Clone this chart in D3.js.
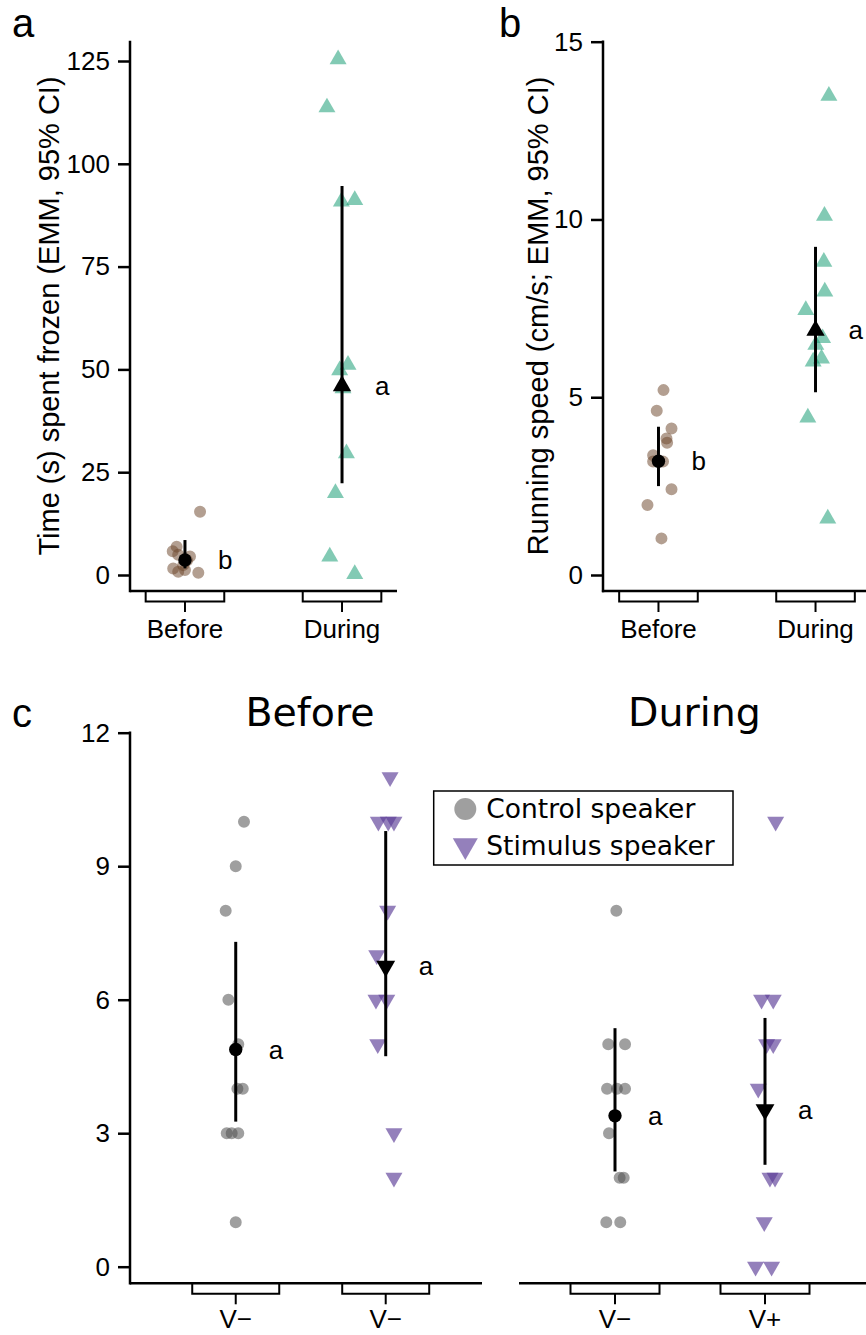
<!DOCTYPE html>
<html>
<head>
<meta charset="utf-8">
<script src="https://cdn.jsdelivr.net/npm/d3@7"></script>
<style>
  body { margin: 0; background: #fff; }
</style>
</head>
<body>
<svg id="fig" width="866" height="1335"></svg>
<script>
// ---------- Panel a: time spent frozen (s) ----------
const abCategories = ["Before", "During"];
const frozenBefore = [15.4, 0.56, 5.8, 6.9, 4.9, 4.5, 1.6, 0.8, 2.4, 3.5, 1.2];
const frozenBeforeJitter = [0.096, 0.085, -0.078, -0.053, -0.043, 0.032, -0.075, -0.043, -0.011, 0.013, 0];
const frozenDuring = [125.4, 113.7, 90.8, 91.2, 51.1, 49.8, 45.4, 29.6, 19.9, 4.5, 0.2];
const frozenDuringJitter = [-0.025, -0.096, -0.004, 0.081, 0.038, -0.015, 0.006, 0.028, -0.042, -0.078, 0.081];
const frozenEmm = [3.65, 46.0];
const frozenLower = [1.6, 22.3];
const frozenUpper = [8.5, 94.6];
const frozenLetters = ["b", "a"];
const frozenTicks = [0, 25, 50, 75, 100, 125];

// ---------- Panel b: running speed (cm/s) ----------
const speedBefore = [5.2, 4.62, 4.12, 3.84, 3.72, 3.37, 3.19, 3.19, 2.41, 1.97, 1.03];
const speedBeforeJitter = [0.032, -0.011, 0.083, 0.051, 0.055, -0.034, -0.034, 0.029, 0.083, -0.07, 0.019];
const speedDuring = [13.48, 10.1, 8.81, 7.97, 7.45, 6.66, 6.47, 6.09, 6.0, 4.43, 1.59];
const speedDuringJitter = [0.085, 0.057, 0.053, 0.059, -0.062, 0.045, 0.002, 0.038, -0.015, -0.049, 0.078];
const speedEmm = [3.2, 6.88];
const speedLower = [2.5, 5.14];
const speedUpper = [4.17, 9.23];
const speedLetters = ["b", "a"];
const speedTicks = [0, 5, 10, 15];

// ---------- Panel c: number of visits ----------
const periods = ["Before", "During"];
const beforeCategories = ["V\u2212", "V\u2212"];
const duringCategories = ["V\u2212", "V+"];
const visitsBeforeControl = [10, 9, 8, 6, 5, 4, 4, 3, 3, 3, 1];
const visitsBeforeControlJitter = [0.055, 0, -0.067, -0.049, 0.017, 0.011, 0.047, -0.06, -0.027, 0.017, 0];
const visitsBeforeStimulus = [11, 10, 10, 10, 8, 7, 6, 6, 5, 3, 2];
const visitsBeforeStimulusJitter = [0.029, -0.049, 0.017, 0.055, 0.013, -0.06, -0.065, 0.007, -0.053, 0.055, 0.055];
const visitsDuringControl = [8, 5, 5, 4, 4, 4, 3, 2, 2, 1, 1];
const visitsDuringControlJitter = [0.009, -0.045, 0.067, -0.053, 0.013, 0.067, -0.04, 0.031, 0.058, -0.058, 0.035];
const visitsDuringStimulus = [10, 6, 6, 5, 5, 4, 2, 2, 1, 0, 0];
const visitsDuringStimulusJitter = [0.071, -0.023, 0.055, 0.011, 0.055, -0.045, 0.033, 0.067, -0.005, -0.063, 0.044];
const visitsEmmBefore = [4.88, 6.75];
const visitsLowerBefore = [3.26, 4.73];
const visitsUpperBefore = [7.3, 9.79];
const visitsEmmDuring = [3.39, 3.53];
const visitsLowerDuring = [2.14, 2.29];
const visitsUpperDuring = [5.36, 5.59];
const visitsLetters = ["a", "a"];
const visitsTicks = [0, 3, 6, 9, 12];
const legendLabels = ["Control speaker", "Stimulus speaker"];

// ---------- styling ----------
const sans = "'Liberation Sans', Arial, Helvetica, sans-serif";
const dejavu = "'DejaVu Sans', Verdana, sans-serif";
const brown = "rgb(110,70,45)";
const green = "rgb(27,158,119)";
const grey = "rgb(80,80,80)";
const purple = "rgb(90,60,150)";
const axisW = 2.5;

const svg = d3.select("#fig");

const shapes = {
  circle: d3.symbol().type(d3.symbolCircle),
  up: d3.symbol().type(d3.symbolTriangle),
  down: d3.symbol().type(d3.symbolTriangle)
};
function symbolPath(shape, size) {
  return shapes[shape].size(size)();
}
function symbolTransform(shape, cx, cy) {
  return `translate(${cx},${cy})` + (shape === "down" ? " rotate(180)" : "");
}

// Left y axis with ticks, labels and the vertical line
function drawYAxis(g, y, ticks, xPos, lineBottom, lineTopValue) {
  const ax = g.append("g").attr("transform", `translate(${xPos},0)`)
    .call(d3.axisLeft(y).tickValues(ticks).tickSize(12).tickPadding(8).tickSizeOuter(0));
  ax.select(".domain").remove();
  ax.selectAll(".tick line").attr("stroke", "#000").attr("stroke-width", axisW);
  ax.selectAll(".tick text").attr("font-family", sans).attr("font-size", 26).attr("fill", "#000");
  g.append("line")
    .attr("x1", xPos).attr("x2", xPos)
    .attr("y1", lineBottom).attr("y2", y(lineTopValue))
    .attr("stroke", "#000").attr("stroke-width", axisW).attr("stroke-linecap", "square");
}

// Horizontal axis line with bracketed category labels
function drawXAxis(g, x, yPos, from, to, labels, halfWidth, labelBaseline) {
  g.append("line")
    .attr("x1", x(from)).attr("x2", x(to))
    .attr("y1", yPos).attr("y2", yPos)
    .attr("stroke", "#000").attr("stroke-width", axisW);
  const cats = labels.map((d, i) => ({ label: d, pos: i + 1 }));
  const br = g.selectAll(null).data(cats).enter().append("g");
  br.append("path")
    .attr("d", d => {
      const cx = x(d.pos);
      return `M${cx - halfWidth},${yPos} V${yPos + 10.5} H${cx + halfWidth} V${yPos}`;
    })
    .attr("fill", "none").attr("stroke", "#000").attr("stroke-width", 2);
  br.append("line")
    .attr("x1", d => x(d.pos)).attr("x2", d => x(d.pos))
    .attr("y1", yPos + 10.5).attr("y2", yPos + 21)
    .attr("stroke", "#000").attr("stroke-width", 2);
  br.append("text")
    .attr("x", d => x(d.pos)).attr("y", labelBaseline)
    .attr("text-anchor", "middle")
    .attr("font-family", sans).attr("font-size", 26)
    .text(d => d.label);
}

// Jittered raw points, CI bar, EMM marker and group letter
function drawGroup(g, x, y, grp) {
  const pts = grp.values.map((v, i) => ({ v, j: grp.jitter[i] }));
  g.append("g").selectAll("path").data(pts).enter().append("path")
    .attr("d", symbolPath(grp.shape, grp.size))
    .attr("transform", d => symbolTransform(grp.shape, x(grp.pos + d.j), y(d.v)))
    .attr("fill", grp.color).attr("fill-opacity", grp.opacity);
  g.append("line")
    .attr("x1", x(grp.pos)).attr("x2", x(grp.pos))
    .attr("y1", y(grp.lo)).attr("y2", y(grp.hi))
    .attr("stroke", "#000").attr("stroke-width", 3);
  g.append("path")
    .attr("d", symbolPath(grp.shape, grp.meanSize))
    .attr("transform", symbolTransform(grp.shape, x(grp.pos), y(grp.mean)))
    .attr("fill", "#000");
  g.append("text")
    .attr("x", x(grp.pos) + 33).attr("y", y(grp.mean)).attr("dy", "0.35em")
    .attr("font-family", sans).attr("font-size", 26)
    .text(grp.letter);
}

function yTitle(text, xBase, yCenter) {
  svg.append("text")
    .attr("transform", `translate(${xBase},${yCenter}) rotate(-90)`)
    .attr("text-anchor", "middle")
    .attr("font-family", sans).attr("font-size", 29)
    .text(text);
}
function panelLetter(text, x, y) {
  svg.append("text").attr("x", x).attr("y", y)
    .attr("font-family", sans).attr("font-size", 40).text(text);
}

// ================= Panel a =================
{
  const g = svg.append("g");
  const x = d3.scaleLinear().domain([0.65, 2.35]).range([130, 397]);
  const y = d3.scaleLinear().domain([0, 125]).range([575, 61]);
  drawYAxis(g, y, frozenTicks, 130, 591, 129.6);
  drawXAxis(g, x, 591, 0.65, 2.35, abCategories, 39.3, 638);
  drawGroup(g, x, y, { pos: 1, values: frozenBefore, jitter: frozenBeforeJitter, shape: "circle", size: 113,
    meanSize: 141, color: brown, opacity: 0.52, mean: frozenEmm[0], lo: frozenLower[0], hi: frozenUpper[0], letter: frozenLetters[0] });
  drawGroup(g, x, y, { pos: 2, values: frozenDuring, jitter: frozenDuringJitter, shape: "up", size: 125,
    meanSize: 145, color: green, opacity: 0.55, mean: frozenEmm[1], lo: frozenLower[1], hi: frozenUpper[1], letter: frozenLetters[1] });
  yTitle("Time (s) spent frozen (EMM, 95% CI)", 59, 316);
  panelLetter("a", 12, 37);
}

// ================= Panel b =================
{
  const g = svg.append("g");
  const x = d3.scaleLinear().domain([0.65, 2.35]).range([603.5, 870.5]);
  const y = d3.scaleLinear().domain([0, 15]).range([575, 41.7]);
  drawYAxis(g, y, speedTicks, 603, 591, 15);
  drawXAxis(g, x, 591, 0.64, 2.4, abCategories, 39.3, 638);
  drawGroup(g, x, y, { pos: 1, values: speedBefore, jitter: speedBeforeJitter, shape: "circle", size: 113,
    meanSize: 141, color: brown, opacity: 0.52, mean: speedEmm[0], lo: speedLower[0], hi: speedUpper[0], letter: speedLetters[0] });
  drawGroup(g, x, y, { pos: 2, values: speedDuring, jitter: speedDuringJitter, shape: "up", size: 125,
    meanSize: 145, color: green, opacity: 0.55, mean: speedEmm[1], lo: speedLower[1], hi: speedUpper[1], letter: speedLetters[1] });
  yTitle("Running speed (cm/s; EMM, 95% CI)", 548, 316);
  panelLetter("b", 499, 37);
}

// ================= Panel c =================
{
  const g = svg.append("g");
  const y = d3.scaleLinear().domain([0, 12]).range([1266.7, 732.7]);
  const xL = d3.scaleLinear().domain([0.295, 2.642]).range([130, 482]);
  const xR = d3.scaleLinear().domain([0.36, 2.7]).range([519, 870]);
  drawYAxis(g, y, visitsTicks, 130, 1283.3, 12);
  drawXAxis(g, xL, 1283.3, 0.295, 2.642, beforeCategories, 43.5, 1328);
  drawXAxis(g, xR, 1283.3, 0.36, 2.7, duringCategories, 44.5, 1328);

  drawGroup(g, xL, y, { pos: 1, values: visitsBeforeControl, jitter: visitsBeforeControlJitter, shape: "circle", size: 113,
    meanSize: 141, color: grey, opacity: 0.55, mean: visitsEmmBefore[0], lo: visitsLowerBefore[0], hi: visitsUpperBefore[0], letter: visitsLetters[0] });
  drawGroup(g, xL, y, { pos: 2, values: visitsBeforeStimulus, jitter: visitsBeforeStimulusJitter, shape: "down", size: 125,
    meanSize: 155, color: purple, opacity: 0.65, mean: visitsEmmBefore[1], lo: visitsLowerBefore[1], hi: visitsUpperBefore[1], letter: visitsLetters[1] });
  drawGroup(g, xR, y, { pos: 1, values: visitsDuringControl, jitter: visitsDuringControlJitter, shape: "circle", size: 113,
    meanSize: 141, color: grey, opacity: 0.55, mean: visitsEmmDuring[0], lo: visitsLowerDuring[0], hi: visitsUpperDuring[0], letter: visitsLetters[0] });
  drawGroup(g, xR, y, { pos: 2, values: visitsDuringStimulus, jitter: visitsDuringStimulusJitter, shape: "down", size: 125,
    meanSize: 155, color: purple, opacity: 0.65, mean: visitsEmmDuring[1], lo: visitsLowerDuring[1], hi: visitsUpperDuring[1], letter: visitsLetters[1] });

  // facet titles
  const titles = [{ t: periods[0], x: (xL(0.295) + xL(2.642)) / 2 + 4 }, { t: periods[1], x: (xR(0.36) + 866) / 2 + 2 }];
  svg.selectAll(null).data(titles).enter().append("text")
    .attr("x", d => d.x).attr("y", 726)
    .attr("text-anchor", "middle")
    .attr("font-family", dejavu).attr("font-size", 39.5)
    .text(d => d.t);

  // legend
  const lg = svg.append("g");
  lg.append("rect").attr("x", 433.7).attr("y", 791).attr("width", 299.3).attr("height", 74)
    .attr("fill", "#fff").attr("stroke", "#000").attr("stroke-width", 1.5);
  const items = [
    { label: legendLabels[0], shape: "circle", size: 380, color: grey, opacity: 0.55, cy: 809, base: 818.3 },
    { label: legendLabels[1], shape: "down", size: 270, color: purple, opacity: 0.65, cy: 845.5, base: 855 }
  ];
  const it = lg.selectAll(null).data(items).enter().append("g");
  it.append("path")
    .attr("d", d => symbolPath(d.shape, d.size))
    .attr("transform", d => symbolTransform(d.shape, 465.3, d.cy))
    .attr("fill", d => d.color).attr("fill-opacity", d => d.opacity);
  it.append("text")
    .attr("x", 486.3).attr("y", d => d.base)
    .attr("font-family", dejavu).attr("font-size", 26.5)
    .text(d => d.label);

  panelLetter("c", 12, 727);
}
</script>
</body>
</html>
